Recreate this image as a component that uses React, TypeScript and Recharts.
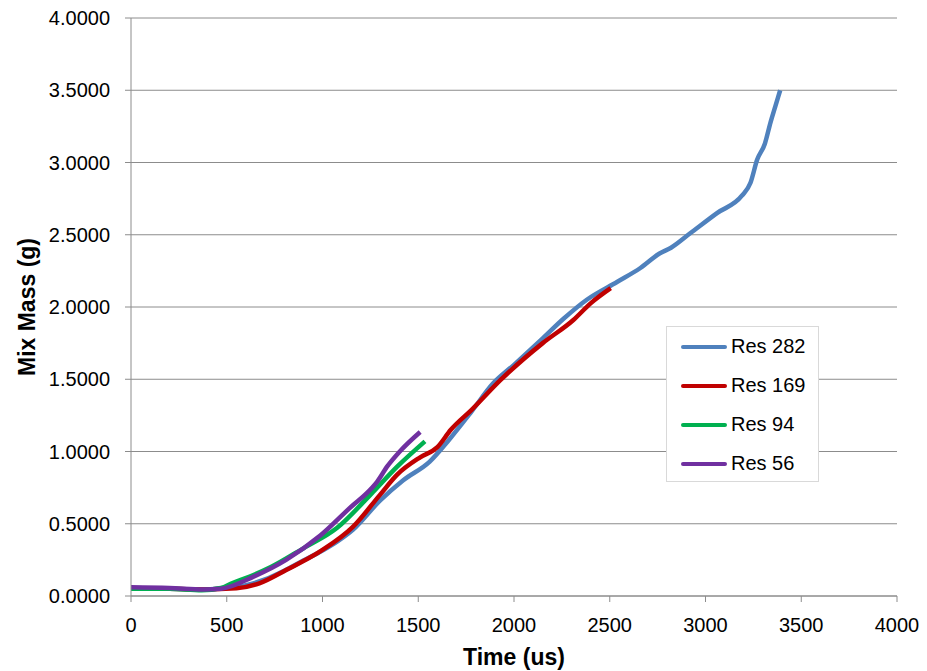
import React from 'react';
import { LineChart, Line, XAxis, YAxis, CartesianGrid, Legend } from 'recharts';

const res282 = [
  { t: 0, g: 0.05 }, { t: 200, g: 0.05 }, { t: 380, g: 0.045 }, { t: 480, g: 0.055 },
  { t: 600, g: 0.075 }, { t: 700, g: 0.115 }, { t: 800, g: 0.175 }, { t: 900, g: 0.245 },
  { t: 1000, g: 0.315 }, { t: 1080, g: 0.38 }, { t: 1160, g: 0.46 }, { t: 1300, g: 0.66 },
  { t: 1420, g: 0.8 }, { t: 1560, g: 0.93 }, { t: 1660, g: 1.08 }, { t: 1780, g: 1.28 },
  { t: 1890, g: 1.47 }, { t: 2000, g: 1.6 }, { t: 2140, g: 1.77 }, { t: 2260, g: 1.92 },
  { t: 2380, g: 2.05 }, { t: 2540, g: 2.175 }, { t: 2660, g: 2.27 }, { t: 2760, g: 2.37 },
  { t: 2820, g: 2.41 }, { t: 2920, g: 2.51 }, { t: 3060, g: 2.65 }, { t: 3190, g: 2.77 },
  { t: 3235, g: 2.86 }, { t: 3270, g: 3.02 }, { t: 3310, g: 3.13 }, { t: 3340, g: 3.28 },
  { t: 3365, g: 3.39 }, { t: 3390, g: 3.5 },
];

const res169 = [
  { t: 0, g: 0.05 }, { t: 200, g: 0.05 }, { t: 380, g: 0.045 }, { t: 550, g: 0.053 },
  { t: 670, g: 0.088 }, { t: 810, g: 0.18 }, { t: 990, g: 0.31 }, { t: 1160, g: 0.48 },
  { t: 1300, g: 0.7 }, { t: 1390, g: 0.84 }, { t: 1510, g: 0.96 }, { t: 1600, g: 1.03 },
  { t: 1670, g: 1.15 }, { t: 1780, g: 1.29 }, { t: 1930, g: 1.495 }, { t: 2150, g: 1.75 },
  { t: 2310, g: 1.91 }, { t: 2400, g: 2.025 }, { t: 2505, g: 2.13 },
];

const res94 = [
  { t: 0, g: 0.05 }, { t: 200, g: 0.05 }, { t: 370, g: 0.04 }, { t: 470, g: 0.055 },
  { t: 530, g: 0.09 }, { t: 620, g: 0.135 }, { t: 730, g: 0.2 }, { t: 900, g: 0.33 },
  { t: 1075, g: 0.47 }, { t: 1250, g: 0.7 }, { t: 1390, g: 0.895 }, { t: 1535, g: 1.07 },
];

const res56 = [
  { t: 0, g: 0.06 }, { t: 200, g: 0.055 }, { t: 380, g: 0.045 }, { t: 470, g: 0.05 },
  { t: 640, g: 0.134 }, { t: 810, g: 0.25 }, { t: 990, g: 0.42 }, { t: 1160, g: 0.63 },
  { t: 1230, g: 0.71 }, { t: 1285, g: 0.79 }, { t: 1340, g: 0.9 }, { t: 1400, g: 0.995 },
  { t: 1510, g: 1.135 },
];

const xTicks = [0, 500, 1000, 1500, 2000, 2500, 3000, 3500, 4000];
const yTicks = [0, 0.5, 1, 1.5, 2, 2.5, 3, 3.5, 4];

const series = [
  { name: 'Res 282', data: res282, color: '#4F81BD' },
  { name: 'Res 169', data: res169, color: '#C00000' },
  { name: 'Res 94', data: res94, color: '#00B050' },
  { name: 'Res 56', data: res56, color: '#7030A0' },
];

const FONT = '"Liberation Sans", Arial, sans-serif';

const LegendBox = () => (
  <div
    style={{
      position: 'absolute',
      left: 0,
      top: 0,
      width: 153,
      height: 156,
      border: '1px solid #d9d9d9',
      background: '#fff',
      boxSizing: 'border-box',
      paddingTop: 0,
      fontFamily: FONT,
    }}
  >
    {series.map((s) => (
      <div key={s.name} style={{ display: 'flex', alignItems: 'center', height: 39, marginTop: 0 }}>
        <div style={{ width: 46, height: 4, background: s.color, marginLeft: 14, borderRadius: 2 }} />
        <span style={{ marginLeft: 4, fontSize: 20, color: '#000' }}>{s.name}</span>
      </div>
    ))}
  </div>
);

export default function App() {
  return (
    <div style={{ position: 'absolute', left: 0, top: 0, background: '#fff' }}>
      <LineChart width={927} height={671} margin={{ top: 18, right: 30, bottom: 0, left: 0 }}>
        <CartesianGrid vertical={false} stroke="#8c8c8c" strokeWidth={1} />
        <XAxis
          type="number"
          dataKey="t"
          domain={[0, 4000]}
          ticks={xTicks}
          allowDuplicatedCategory={false}
          height={75}
          stroke="#8c8c8c"
          tickSize={6}
          tickMargin={16}
          tick={{ fill: '#000', fontSize: 20, fontFamily: FONT }}
          label={{
            value: 'Time (us)',
            position: 'insideBottom',
            offset: 6,
            style: { fill: '#000', fontSize: 23, fontWeight: 'bold', fontFamily: FONT },
          }}
        />
        <YAxis
          type="number"
          dataKey="g"
          domain={[0, 4]}
          ticks={yTicks}
          width={131}
          stroke="#8c8c8c"
          tickSize={6}
          tickMargin={15}
          tickFormatter={(v: number) => v.toFixed(4)}
          tick={{ fill: '#000', fontSize: 20, fontFamily: FONT }}
          label={{
            value: 'Mix Mass (g)',
            angle: -90,
            position: 'insideLeft',
            offset: 27,
            style: { fill: '#000', fontSize: 23, fontWeight: 'bold', fontFamily: FONT, textAnchor: 'middle' },
          }}
        />
        {series.map((s) => (
          <Line
            key={s.name}
            name={s.name}
            data={s.data}
            dataKey="g"
            type="monotone"
            stroke={s.color}
            strokeWidth={4.5}
            dot={false}
            isAnimationActive={false}
          />
        ))}
        <Legend
          content={() => <LegendBox />}
          wrapperStyle={{ position: 'absolute', left: 666, top: 326, width: 0, height: 0, overflow: 'visible' }}
        />
      </LineChart>
    </div>
  );
}
